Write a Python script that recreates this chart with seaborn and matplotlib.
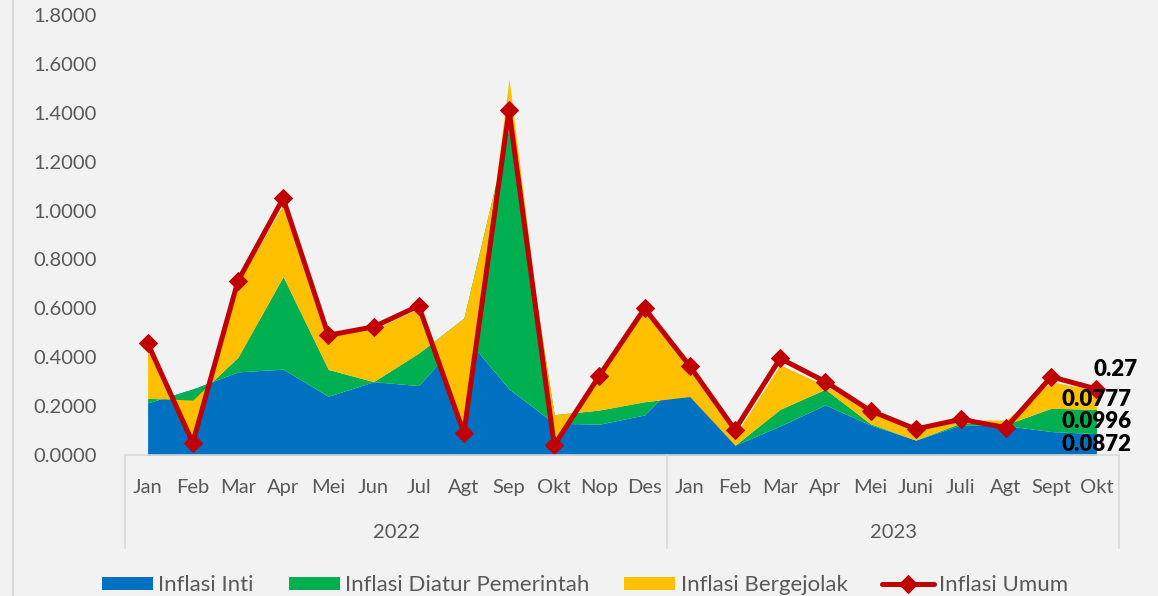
import matplotlib
matplotlib.use("Agg")
import matplotlib.pyplot as plt
import seaborn as sns
import numpy as np
from matplotlib.lines import Line2D
from matplotlib.ticker import MultipleLocator, StrMethodFormatter

# data
bulan = ["Jan", "Feb", "Mar", "Apr", "Mei", "Jun", "Jul", "Agt", "Sep", "Okt", "Nop", "Des",
         "Jan", "Feb", "Mar", "Apr", "Mei", "Juni", "Juli", "Agt", "Sept", "Okt"]
tahun = ["2022", "2023"]
bulan_per_tahun = [12, 10]

inti = [0.213, 0.27, 0.34, 0.351, 0.24, 0.30, 0.284, 0.49, 0.27, 0.13, 0.126, 0.164,
        0.35, 0.04, 0.119, 0.205, 0.123, 0.061, 0.123, 0.12, 0.096, 0.0872]
diatur = [0.019, -0.045, 0.06, 0.379, 0.11, 0.0, 0.133, 0.07, 1.07, 0.035, 0.058, 0.054,
          -0.111, 0.0, 0.068, 0.064, 0.005, 0.0, 0.008, 0.005, 0.095, 0.0996]
bergejolak = [0.225, -0.175, 0.30, 0.295, 0.14, 0.213, 0.183, -0.47, 0.20, -0.125, 0.14, 0.37,
              0.125, 0.04, 0.182, 0.015, 0.049, 0.035, 0.012, 0.018, 0.109, 0.0777]
umum = [0.458, 0.05, 0.712, 1.05, 0.49, 0.524, 0.61, 0.09, 1.41, 0.04, 0.325, 0.60,
        0.364, 0.103, 0.395, 0.30, 0.181, 0.106, 0.146, 0.112, 0.32, 0.27]

seri = ["Inflasi Inti", "Inflasi Diatur Pemerintah", "Inflasi Bergejolak", "Inflasi Umum"]
warna = ["#0070C0", "#00B050", "#FFC000", "#C00000"]

sns.set_theme(style="white", rc={"axes.facecolor": "#F2F2F2", "figure.facecolor": "#F2F2F2"})
plt.rcParams["font.family"] = ["Lato", "DejaVu Sans"]
abu = "#595959"
garis = "#D9D9D9"

fig = plt.figure(figsize=(11.58, 5.96), dpi=100)
ax = fig.add_axes([125 / 1158, 141 / 596, 994 / 1158, 440 / 596])

x = np.arange(len(bulan))
ax.stackplot(x, inti, diatur, bergejolak, colors=warna[:3], labels=seri[:3], linewidth=0)
sns.lineplot(x=x, y=umum, ax=ax, color=warna[3], linewidth=3.6, marker="D", markersize=9,
             markeredgecolor=warna[3], label=seri[3], sort=False)

ax.set_xlim(-0.5, len(bulan) - 0.5)
ax.set_ylim(0, 1.8)
ax.yaxis.set_major_locator(MultipleLocator(0.2))
ax.yaxis.set_major_formatter(StrMethodFormatter("{x:.4f}"))
ax.set_xticks(x)
ax.set_xticklabels(bulan)
ax.tick_params(axis="both", length=0, labelsize=14.5, labelcolor=abu)
ax.tick_params(axis="y", pad=20)
ax.tick_params(axis="x", pad=17.5)
ax.set_xlabel("")
ax.set_ylabel("")
sns.despine(ax=ax, left=True, top=True, right=True)
ax.spines["bottom"].set_color(garis)
ax.spines["bottom"].set_linewidth(1.2)

# kotak kategori tahun
batas = np.concatenate([[0], np.cumsum(bulan_per_tahun)]) - 0.5
trans = ax.get_xaxis_transform()
for b in batas:
    ax.plot([b, b], [0, -0.211], transform=trans, color=garis, lw=1.2, clip_on=False)
for i, t in enumerate(tahun):
    ax.text((batas[i] + batas[i + 1]) / 2, -0.1766, t, transform=trans, ha="center", va="center",
            fontsize=14.5, color=abu)

# label data bulan terakhir
akhir = len(bulan) - 1
kum = 0
for v in [inti[-1], diatur[-1], bergejolak[-1]]:
    ax.text(akhir, kum + v / 2, f"{v:.4f}", ha="center", va="center", fontsize=16,
            fontweight="heavy", color="black")
    kum += v
ax.annotate(f"{umum[-1]:g}", (akhir, umum[-1]), xytext=(13.7, 14.4), textcoords="offset points",
            ha="center", va="center", fontsize=16, fontweight="heavy", color="black")

handles, labels = ax.get_legend_handles_labels()
if ax.get_legend() is not None:
    ax.get_legend().remove()
fig.legend(handles, labels, loc="center", bbox_to_anchor=(0.505, 0.018), ncol=4, frameon=False,
           fontsize=16, labelcolor=abu, handlelength=2.3, handleheight=0.57,
           handletextpad=0.23, columnspacing=1.58)

fig.add_artist(Line2D([13 / 1158, 13 / 1158], [0, 1], color=garis, lw=1.5))

fig.savefig("out.png", dpi=100, facecolor=fig.get_facecolor())
